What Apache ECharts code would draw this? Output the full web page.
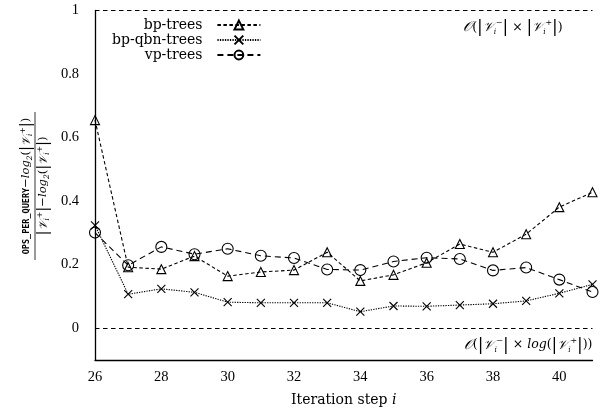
<!DOCTYPE html>
<html><head><meta charset="utf-8">
<script src="https://cdn.jsdelivr.net/npm/echarts@6/dist/echarts.min.js"></script>
<style>html,body{margin:0;padding:0;background:#fff}#c{width:612px;height:411px}</style>
</head><body><div id="c"></div>
<script>
const steps = [26,27,28,29,30,31,32,33,34,35,36,37,38,39,40,41];
const bpTrees = [0.655,0.192,0.186,0.227,0.164,0.177,0.183,0.239,0.149,0.168,0.206,0.265,0.239,0.296,0.381,0.428];
const bpQbnTrees = [0.324,0.107,0.124,0.113,0.082,0.080,0.080,0.080,0.052,0.070,0.069,0.073,0.077,0.086,0.110,0.138];
const vpTrees = [0.301,0.198,0.256,0.233,0.250,0.228,0.221,0.185,0.183,0.210,0.222,0.218,0.182,0.191,0.153,0.114];
const yTicks = [0,0.2,0.4,0.6,0.8,1];
const xTicks = [26,28,30,32,34,36,38,40];
const refLevels = [1,0];
const seriesNames = ['bp-trees','bp-qbn-trees','vp-trees'];

const SERIF = "'DejaVu Serif', serif";
const TICKFONT = "'Liberation Serif', serif";
const crossPath = 'path://M0,0L10,10M10,0L0,10';

const mathRich = {
  o:{fontFamily:SERIF,fontSize:14,fontStyle:'italic',color:'#000'},
  r:{fontFamily:SERIF,fontSize:12.5,color:'#000'},
  it:{fontFamily:SERIF,fontSize:12.5,fontStyle:'italic',color:'#000'},
  v:{fontFamily:SERIF,fontSize:13,fontStyle:'italic',color:'#000'},
  b:{fontFamily:SERIF,fontSize:17,color:'#666'},
  sub:{fontFamily:SERIF,fontSize:7.5,fontStyle:'italic',color:'#000',verticalAlign:'bottom'},
  sup:{fontFamily:SERIF,fontSize:7.5,color:'#000',verticalAlign:'top'},
  m:{fontFamily:"'DejaVu Sans Mono', monospace",fontSize:8.5,fontWeight:'bold',color:'#000'}
};
const labelRich = Object.assign({}, mathRich, {
  r:{fontFamily:SERIF,fontSize:11.5,color:'#000'},
  it:{fontFamily:SERIF,fontSize:11.5,fontStyle:'italic',color:'#000'},
  v:{fontFamily:SERIF,fontSize:12,fontStyle:'italic',color:'#000'},
  b:{fontFamily:SERIF,fontSize:15,color:'#666'}
});

function mk(name, data, dash, symbol, size){
  return {
    name, type:'line', data: steps.map((s,i)=>[s,data[i]]),
    symbol, symbolSize:size, showSymbol:true,
    lineStyle:{color:'#000',width:1.1,type:dash},
    itemStyle:{color:'rgba(0,0,0,0)',borderColor:'#000',borderWidth:1.1},
    emphasis:{disabled:true}
  };
}

const chart = echarts.init(document.getElementById('c'), null, {renderer:'canvas'});
const series = [
  mk(seriesNames[0], bpTrees, [3.5,2.5], 'triangle', 9),
  mk(seriesNames[1], bpQbnTrees, [1.3,1.2], crossPath, 8),
  mk(seriesNames[2], vpTrees, [6,4], 'circle', 11)
];
series[0].markLine = {
  silent:true, symbol:'none', animation:false,
  label:{show:false},
  lineStyle:{color:'#000',width:1,type:[4.5,3.5]},
  data: refLevels.map(v=>({yAxis:v}))
};

chart.setOption({
  animation:false,
  backgroundColor:'#fff',
  grid:{left:95,right:19.5,top:10.5,bottom:51,containLabel:false,outerBoundsMode:'none'},
  legend:{
    data:seriesNames, orient:'vertical', align:'right',
    left:107, top:12.5, itemWidth:43, itemHeight:11, itemGap:0,
    textStyle:{fontFamily:SERIF,fontSize:14,color:'#000',lineHeight:15,padding:[0,10,0,0]}
  },
  xAxis:{
    type:'value', min:26, max:41, interval:1,
    axisLine:{onZero:false,lineStyle:{color:'#000',width:1.3}}, axisTick:{show:false}, splitLine:{show:false},
    axisLabel:{fontFamily:TICKFONT,fontSize:14.5,color:'#000',margin:10,
      formatter:v=>xTicks.some(t=>Math.abs(t-v)<1e-6)?String(v):''},
    name:'Iteration step {i|i}', nameLocation:'middle', nameGap:33,
    nameTextStyle:{fontFamily:SERIF,fontSize:14,color:'#000',rich:{i:{fontFamily:SERIF,fontSize:14,fontStyle:'italic',color:'#000'}}}
  },
  yAxis:{
    type:'value', min:-0.1, max:1, interval:0.1,
    axisLine:{show:true,onZero:false,lineStyle:{color:'#000',width:1.3}}, axisTick:{show:false}, splitLine:{show:false},
    axisLabel:{fontFamily:TICKFONT,fontSize:14.5,color:'#000',margin:16,
      formatter:v=>{const t=yTicks.find(t=>Math.abs(t-v)<1e-6);return t===undefined?'':String(t);}}
  },
  series
});

const pUp = chart.convertToPixel({gridIndex:0},[37.1,1]);
const pLo = chart.convertToPixel({gridIndex:0},[41,0]);
chart.setOption({
  graphic:[
    {type:'text', x:pUp[0], y:pUp[1]+17, style:{
      text:'{o|𝒪}{r|(}{b||}{v|𝒱}{sub|i}{sup|−}{b||}{r| × }{b||}{v|𝒱}{sub|i}{sup|+}{b||}{r|)}',
      rich:mathRich, align:'left', verticalAlign:'middle'}},
    {type:'text', x:pLo[0], y:pLo[1]+17, style:{
      text:'{o|𝒪}{r|(}{b||}{v|𝒱}{sub|i}{sup|−}{b||}{r| × }{it|log}{r|(}{b||}{v|𝒱}{sub|i}{sup|+}{b||}{r|))}',
      rich:mathRich, align:'right', verticalAlign:'middle'}},
    {type:'group', x:35, y:186, rotation:Math.PI/2, children:[
      {type:'text', x:0, y:-1, style:{
        text:'{m|OPS_PER_QUERY}{r|−}{it|log}{sub|2}{r|(}{b||}{v|𝒱}{sub|i}{sup|+}{b||}{r|)}',
        rich:labelRich, align:'center', verticalAlign:'bottom'}},
      {type:'line', shape:{x1:-74,y1:0,x2:74,y2:0}, style:{stroke:'#000',lineWidth:0.8}},
      {type:'text', x:0, y:1, style:{
        text:'{b||}{v|𝒱}{sub|i}{sup|+}{b||}{r|−}{it|log}{sub|2}{r|(}{b||}{v|𝒱}{sub|i}{sup|+}{b||}{r|)}',
        rich:labelRich, align:'center', verticalAlign:'top'}}
    ]}
  ]
});
</script></body></html>
